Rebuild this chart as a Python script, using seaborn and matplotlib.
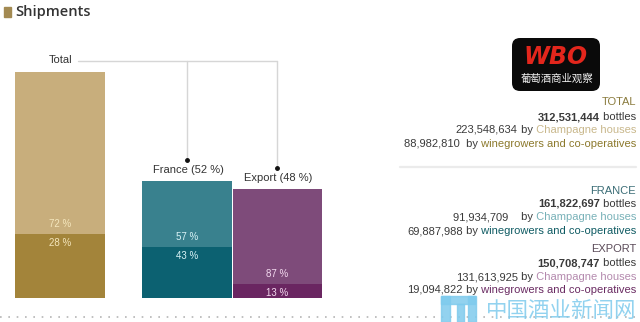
import matplotlib
matplotlib.use("Agg")
import matplotlib.pyplot as plt
from matplotlib.patches import FancyBboxPatch, Rectangle
from matplotlib.transforms import IdentityTransform
import seaborn as sns
import pandas as pd

# ---------------- data ----------------
groups = ["Total", "France", "Export"]
group_labels = ["Total", "France (52 %)", "Export (48 %)"]
bottles_total = [312.531444, 161.822697, 150.708747]      # million bottles
bottles_growers = [88.982810, 69.887988, 19.094822]       # million bottles
pct_houses = ["72 %", "57 %", "87 %"]
pct_growers = ["28 %", "43 %", "13 %"]
positions = [0.0, 1.403, 2.403]

sec_titles = ["TOTAL", "FRANCE", "EXPORT"]
sec_bottles = ["312,531,444", "161,822,697", "150,708,747"]
sec_houses = ["223,548,634", "91,934,709   ", "131,613,925"]
sec_growers = ["88,982,810 ", "69,887,988", "19,094,822"]

# ---------------- style ----------------
light = ["#c8ae7c", "#39818e", "#7e4b7a"]
dark = ["#a3843a", "#0c6171", "#6a2661"]
lbl_col = ["#f4e6bc", "#d9f3f6", "#f3d9ef"]
title_col = ["#8a7b3d", "#3b6d76", "#5b4b59"]
houses_col = ["#c9b88c", "#78b1b8", "#b48aae"]
growers_col = ["#8c792c", "#0f5b63", "#6a2b62"]
txt_dark = "#3a3a3a"

sns.set_theme(style="white")
plt.rcParams["font.family"] = ["Liberation Sans", "DejaVu Sans"]

W, H = 640, 322
fig = plt.figure(figsize=(W / 100, H / 100), dpi=100)
ax = fig.add_axes([0, 0, 1, 1])

df = pd.DataFrame({"group": groups, "pos": positions,
                   "total": bottles_total, "growers": bottles_growers})

sns.barplot(data=df, x="pos", y="total", hue="group", palette=light,
            native_scale=True, width=0.99, saturation=1, legend=False,
            errorbar=None, ax=ax, linewidth=0)
sns.barplot(data=df, x="pos", y="growers", hue="group", palette=dark,
            native_scale=True, width=0.99, saturation=1, legend=False,
            errorbar=None, ax=ax, linewidth=0)

UX = 90.5            # px per x unit
PXY = 312.53 / 226   # million per px
ax.set_xlim(-60 / UX, (W - 60) / UX)
ax.set_ylim(-(H - 298) * PXY, 298 * PXY)
ax.axis("off")

# percentage labels
for p, g, hl, gl, c in zip(positions, bottles_growers, pct_houses, pct_growers, lbl_col):
    ax.annotate(hl, (p, g), xytext=(0, 10), textcoords="offset pixels",
                ha="center", va="center", fontsize=7, color=c)
    ax.annotate(gl, (p, g), xytext=(0, -9), textcoords="offset pixels",
                ha="center", va="center", fontsize=7, color=c)

# connector lines and group labels
yline = (298 - 61) * PXY
ax.plot([(78 - 60) / UX, positions[2]], [yline, yline], color="#d6d6d6", lw=1)
ax.annotate(group_labels[0], (positions[0], yline), xytext=(1, 1),
            textcoords="offset pixels", ha="center", va="center",
            fontsize=8, color="#333333")
for p, t, lab in zip(positions[1:], bottles_total[1:], group_labels[1:]):
    ydot = t + 21 * PXY
    ax.plot([p, p], [ydot, yline], color="#d6d6d6", lw=1)
    ax.plot([p], [ydot], marker="o", ms=2.5, color="#111111")
    ax.annotate(lab, (p, t), xytext=(1, 11), textcoords="offset pixels",
                ha="center", va="center", fontsize=8, color="#333333")

# bottom dotted rule
ax.axhline(-(317 - 298) * PXY, color="#b5b5b5", lw=1.2, ls=(0, (1, 4)))

# ---------------- title ----------------
fig.add_artist(Rectangle((4, H - 17), 7, 10, color="#a38a52",
                         transform=IdentityTransform()))
fig.text(15 / W, 1 - 12 / H, "Shipments", ha="left", va="center",
         fontsize=10.5, fontweight="semibold", family="Open Sans", color="#333333")

# ---------------- right panel ----------------
renderer = fig.canvas.get_renderer()


def rline(ypx, parts, xr=636):
    x = xr
    for txt, col, wt in reversed(parts):
        t = fig.text(x / W, 1 - ypx / H, txt, ha="right", va="center",
                     color=col, fontweight=wt, fontsize=8)
        x -= t.get_window_extent(renderer).width


rows_y = [(102, 117, 130, 144), (191, 204, 217, 231), (249, 263, 277, 290)]
for i in range(3):
    y0, y1, y2, y3 = rows_y[i]
    rline(y0, [(sec_titles[i], title_col[i], "normal")])
    rline(y1, [(sec_bottles[i], txt_dark, "bold"), (" bottles", txt_dark, "normal")])
    rline(y2, [(sec_houses[i], txt_dark, "normal"), (" by", txt_dark, "normal"),
               (" Champagne houses", houses_col[i], "normal")])
    rline(y3, [(sec_growers[i], txt_dark, "normal"), (" by", txt_dark, "normal"),
               (" winegrowers and co-operatives", growers_col[i], "normal")])

fig.add_artist(plt.Line2D([400 / W, 636 / W], [1 - 167 / H] * 2,
                          color="#ebebeb", lw=1.6))

# ---------------- logo ----------------
fig.add_artist(FancyBboxPatch((512, H - 91), 88, 53,
                              boxstyle="round,pad=0,rounding_size=8",
                              fc="#0a0a0a", ec="none",
                              transform=IdentityTransform()))
fig.text(556 / W, 1 - 57 / H, "WBO", ha="center", va="center", fontsize=17,
         fontweight="bold", fontstyle="italic", family="DejaVu Sans",
         color="#e3261c")
for yy in range(46, 70, 4):
    fig.add_artist(plt.Line2D([522 / W, 592 / W], [1 - yy / H] * 2,
                              color="#0a0a0a", lw=0.9))
fig.text(557 / W, 1 - 79 / H, "葡萄酒商业观察", ha="center", va="center",
         fontsize=7.5, family=["Noto Sans CJK SC", "DejaVu Sans"],
         color="#f0f0f0")

# ---------------- watermark ----------------
wm = "#7fcbed"
for (x0, y0, w, h) in [(441, 296, 9, 26), (441, 296, 34, 8),
                       (457, 304, 7, 18), (468, 296, 8, 26)]:
    fig.add_artist(Rectangle((x0, H - y0 - h), w, h, color=wm, alpha=0.85,
                             transform=IdentityTransform()))
fig.text(486 / W, 1 - 311 / H, "中国酒业新闻网", ha="left", va="center",
         fontsize=15.5, family=["Noto Sans CJK SC", "DejaVu Sans"],
         color=wm, alpha=0.85)

fig.savefig("out.png", dpi=100)
